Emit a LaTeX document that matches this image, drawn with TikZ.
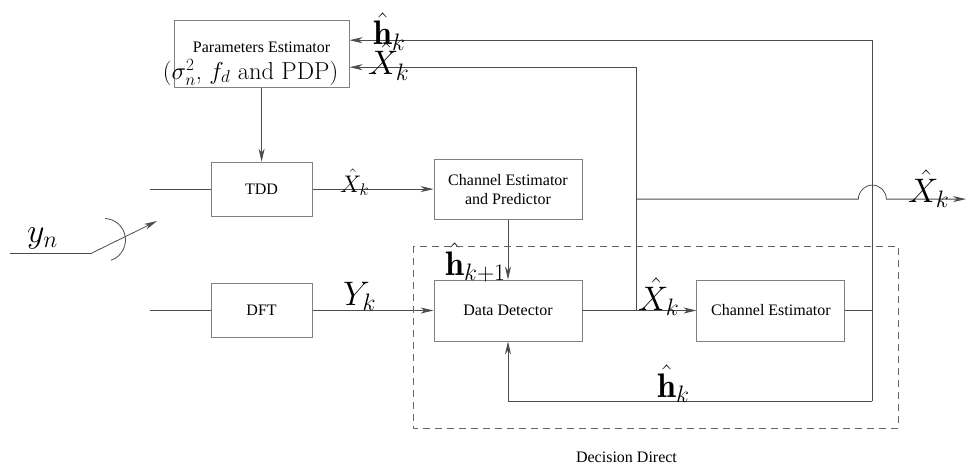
\RequirePackage{fix-cm}
\documentclass[tikz,border=0pt]{standalone}
\usepackage{fontspec}
\usepackage{mathtools}
\newfontfamily\tms{Liberation Serif}
\usetikzlibrary{arrows,arrows.meta,backgrounds,shapes,positioning,calc}
\begin{document}
\begin{tikzpicture}[x=1pt,y=1pt,>={Stealth[length=13pt,width=6pt,inset=4pt]},
        block/.style={rectangle, draw=black!50, line width=0.9pt, inner sep=0pt, align=center,
                      font=\tms\fontsize{16}{19}\selectfont},
        conn/.style={draw=black!70, line width=0.8pt},
        lbl/.style={inner sep=0pt, anchor=base west, font=\fontsize{34}{36}\selectfont},
        slbl/.style={inner sep=0pt, anchor=base west, font=\fontsize{24}{26}\selectfont}]
        \useasboundingbox (0,0) rectangle (966,-468);
        % blocks
        \node[block, minimum width=148pt, minimum height=61pt] (DD) at (508,-310.5) {Data Detector};
        \node[block, minimum width=148pt, minimum height=60pt, above = 60pt of DD] (CEP) {
                                                           Channel Estimator \\
                                                           and Predictor
                                                          };
        \node[block, minimum width=148pt, minimum height=61pt, right = 114pt of DD] (CE) {Channel Estimator};
        \node[block, minimum width=101pt, minimum height=54pt, left = 121pt of DD] (DFT) {DFT};
        \node[block, minimum width=101pt, minimum height=54pt, left = 121pt of CEP] (TDD) {TDD};
        \node[block, minimum width=175pt, minimum height=67pt, above = 74pt of TDD] (PE) {
                                                           \rule{0pt}{30pt}Parameters Estimator \\[6pt]
                                                           \makebox[0pt]{\rmfamily\fontsize{24.5}{27}\selectfont
                                                           ($\sigma_n^2$, $f_d$ and PDP)\hspace*{22pt}}
                                                          };
        % switch
        \coordinate (yin) at (10,-253);
        \coordinate (sw) at (92,-253);
        \coordinate (swtip) at (157,-221);
        \draw[conn] (yin) -- (sw);
        \draw[conn,->] (sw) -- (swtip);
        \draw[conn] (111,-260.3) arc[start angle=-71, end angle=87, radius=21.5];
        \node[lbl] (yn) at (27,-242) {$y_n$};
        % inputs
        \coordinate[left = 61pt of TDD.west] (tddin);
        \coordinate[left = 61pt of DFT.west] (dftin);
        \draw[conn] (tddin) -- (TDD.west);
        \draw[conn] (dftin) -- (DFT.west);
        \draw[conn,->] (PE.south -| TDD.north) -- (TDD.north);
        \draw[conn,->] (TDD.east) -- (CEP.west);
        \draw[conn,->] (DFT.east) -- (DD.west);
        \draw[conn,->] (CEP.south) -- (DD.north);
        \draw[conn,->] (DD.east) -- (CE.west);
        % feedback
        \coordinate[right = 54pt of DD.east] (br1);
        \coordinate (xin) at ([yshift=-13.5pt]PE.east);
        \coordinate (hin) at ([yshift=13.5pt]PE.east);
        \coordinate (br2) at ([yshift=-10pt]CEP.east -| br1);
        \coordinate[right = 27pt of CE.east] (cer);
        \coordinate[below = 90.5pt of cer] (ceb);
        \coordinate (xout) at (br2 -| 966,0);
        \draw[conn,->] (br1) |- (xin);
        \draw[conn] (CE.east) -- (cer);
        \draw[conn,->] (ceb) -- (cer |- hin) -- (hin);
        \draw[conn,->] (ceb) -| (DD.south);
        \draw[conn,->] (br2) -- ([xshift=-14pt]br2 -| cer) arc[start angle=180, end angle=0, radius=14pt] -- (xout);
        % labels
        \node[lbl] (lh1) at (373,-45) {$\hat{\mathbf{h}}_k$};
        \node[lbl] (lx1) at (368,-75) {$\hat{X}_k$};
        \node[slbl] (lx2) at (340,-192) {$\hat{X}_k$};
        \node[lbl] (lh2) at (445,-275) {$\hat{\mathbf{h}}_{k+1}$};
        \node[lbl] (ly) at (343,-305) {$Y_k$};
        \node[lbl] (lx3) at (638,-310) {$\hat{X}_k$};
        \node[lbl] (lx4) at (908,-202) {$\hat{X}_k$};
        \node[lbl] (lh3) at (657,-397) {$\hat{\mathbf{h}}_k$};
        % decision direct
        \draw[black!60, line width=0.8pt, dash pattern=on 7pt off 5pt] (413,-246) rectangle (898,-428);
        \node[font=\tms\fontsize{16}{19}\selectfont] (dd) at (626.5,-457) {Decision Direct};
      \end{tikzpicture}
\end{document}
